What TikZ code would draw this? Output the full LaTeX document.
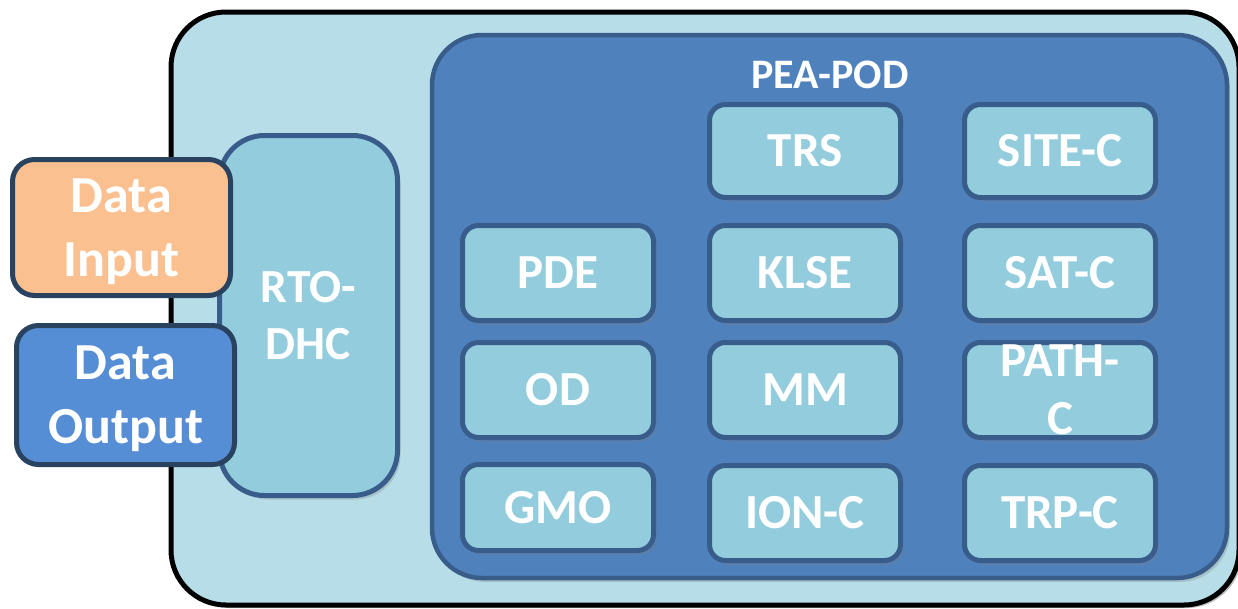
\documentclass[tikz,border=0pt]{standalone}
\usepackage{fontspec}
\setmainfont{Carlito}
\usetikzlibrary{shadows}
\definecolor{outerfill}{HTML}{B7DEE8}
\definecolor{podfill}{HTML}{4F81BD}
\definecolor{podline}{HTML}{385D8A}
\definecolor{boxfill}{HTML}{93CDDD}
\definecolor{inputfill}{HTML}{FAC090}
\definecolor{outputfill}{HTML}{558ED5}
\definecolor{navy}{HTML}{28425F}
\begin{document}
\begin{tikzpicture}[x=1pt,y=-1pt,
  softshadow/.style={drop shadow={shadow xshift=3pt,shadow yshift=-4pt,opacity=0.3}},
  basebox/.style={inner sep=0pt, text=white, align=center},
  modbox/.style={basebox, draw=podline, line width=5pt, fill=boxfill, rounded corners=16pt,
    minimum width=191pt, minimum height=95pt, softshadow,
    font=\bfseries\fontsize{49}{58}\selectfont},
  databox/.style={basebox, draw=navy, line width=5pt, rounded corners=22pt,
    minimum width=218pt, text depth=0pt, font=\bfseries\fontsize{52}{64}\selectfont}]
\clip (0,0) rectangle (1238,608);
% outer system container
\node[draw=black, line width=5pt, fill=outerfill, rounded corners=55pt,
  minimum width=1068pt, minimum height=593pt, inner sep=0pt,
  drop shadow={shadow xshift=3pt,shadow yshift=-3pt,opacity=0.5}] (sys) at (705,308.5) {};
% PEA-POD container
\node[draw=podline, line width=4.5pt, fill=podfill, rounded corners=50pt,
  minimum width=795pt, minimum height=543pt, inner sep=0pt, softshadow] (pod) at (829.5,306.5) {};
\node[text=white, font=\bfseries\fontsize{42}{48}\selectfont, anchor=base] (podlabel) at (830,88) {PEA-POD};
% RTO-DHC
\node[basebox, draw=podline, line width=5pt, fill=boxfill, rounded corners=45pt,
  minimum width=178pt, minimum height=360pt, softshadow,
  font=\bfseries\fontsize{47.5}{57}\selectfont] (rto) at (308.5,315.5) {RTO-\\DHC};
% modules
\node[modbox, minimum height=93pt] (trs)  at (805,151) {TRS};
\node[modbox, minimum height=93pt] (site) at (1060,151) {SITE-C};
\node[modbox] (pde)  at (558,273) {PDE};
\node[modbox] (klse) at (805,273) {KLSE};
\node[modbox] (sat)  at (1060,273) {SAT-C};
\node[modbox] (od)   at (558,390) {OD};
\node[modbox] (mm)   at (805,390) {MM};
\node[modbox] (path) at (1060,390) {PATH-\\C};
\node[modbox, minimum height=86pt] (gmo) at (558,507.5) {GMO};
\node[modbox] (ion)  at (805,513) {ION-C};
\node[modbox] (trp)  at (1060,513) {TRP-C};
% data boxes
\node[databox, fill=inputfill, minimum height=136pt] (din) at (121.5,227.5) {Data\\Input};
\node[databox, fill=outputfill, minimum height=139pt] (dout) at (125.5,395) {Data\\Output};
\end{tikzpicture}
\end{document}
